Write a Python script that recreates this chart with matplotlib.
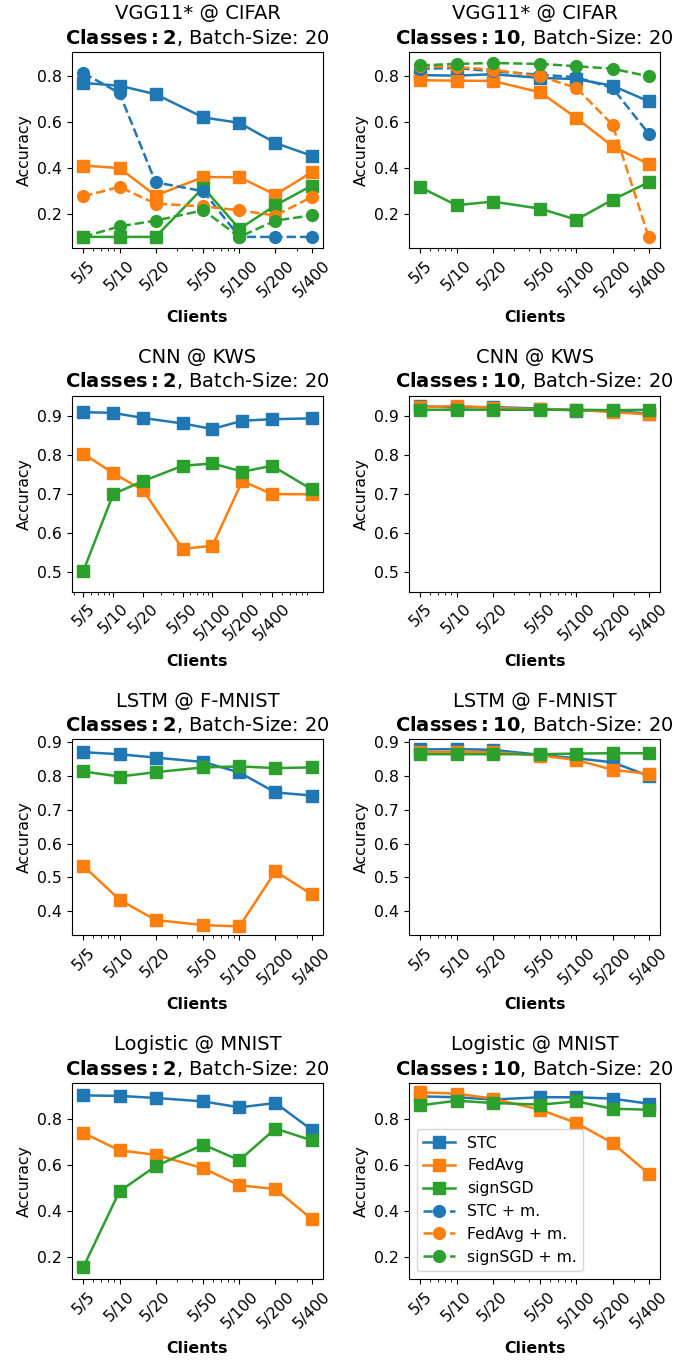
import numpy as np
from matplotlib import pyplot as plt
from matplotlib.ticker import NullFormatter

clients = [5, 10, 20, 50, 100, 200, 400]
clients_kws2 = [5, 10, 20, 50, 100, 200, 400, 1000]
client_labels = ["5/5", "5/10", "5/20", "5/50", "5/100", "5/200", "5/400"]

# VGG11* @ CIFAR
vgg2_stc = [0.771, 0.759, 0.722, 0.621, 0.597, 0.509, 0.454]
vgg2_fedavg = [0.411, 0.400, 0.280, 0.361, 0.360, 0.284, 0.382]
vgg2_signsgd = [0.100, 0.100, 0.100, 0.315, 0.135, 0.238, 0.323]
vgg2_stc_m = [0.814, 0.727, 0.338, 0.299, 0.100, 0.100, 0.100]
vgg2_fedavg_m = [0.277, 0.318, 0.245, 0.233, 0.216, 0.193, 0.274]
vgg2_signsgd_m = [0.100, 0.146, 0.171, 0.216, 0.100, 0.171, 0.194]

vgg10_stc = [0.805, 0.803, 0.809, 0.793, 0.788, 0.759, 0.691]
vgg10_fedavg = [0.783, 0.781, 0.780, 0.730, 0.618, 0.495, 0.418]
vgg10_signsgd = [0.316, 0.238, 0.254, 0.223, 0.175, 0.262, 0.338]
vgg10_stc_m = [0.833, 0.836, 0.822, 0.807, 0.796, 0.749, 0.550]
vgg10_fedavg_m = [0.844, 0.840, 0.829, 0.800, 0.749, 0.589, 0.100]
vgg10_signsgd_m = [0.848, 0.854, 0.858, 0.854, 0.844, 0.833, 0.800]

# CNN @ KWS
kws2_stc = [0.909, 0.907, 0.894, 0.880, 0.866, 0.887, 0.891, 0.893]
kws2_fedavg = [0.803, 0.753, 0.710, 0.560, 0.568, 0.733, 0.700, 0.699]
kws2_signsgd = [0.504, 0.700, 0.733, 0.772, 0.778, 0.757, 0.772, 0.712]

kws10_stc = [0.924, 0.921, 0.922, 0.918, 0.913, 0.912, 0.905]
kws10_fedavg = [0.921, 0.925, 0.920, 0.916, 0.915, 0.909, 0.903]
kws10_signsgd = [0.915, 0.915, 0.915, 0.915, 0.915, 0.914, 0.915]

# LSTM @ F-MNIST
fmnist2_stc = [0.870, 0.864, 0.854, 0.841, 0.810, 0.751, 0.742]
fmnist2_fedavg = [0.534, 0.434, 0.374, 0.359, 0.355, 0.518, 0.450]
fmnist2_signsgd = [0.813, 0.798, 0.811, 0.825, 0.828, 0.823, 0.825]

fmnist10_stc = [0.878, 0.879, 0.877, 0.862, 0.852, 0.840, 0.800]
fmnist10_fedavg = [0.870, 0.871, 0.870, 0.860, 0.847, 0.818, 0.806]
fmnist10_signsgd = [0.864, 0.864, 0.864, 0.864, 0.866, 0.867, 0.867]

# Logistic @ MNIST
mnist2_stc = [0.901, 0.899, 0.890, 0.875, 0.849, 0.868, 0.752]
mnist2_fedavg = [0.738, 0.662, 0.643, 0.584, 0.510, 0.494, 0.364]
mnist2_signsgd = [0.155, 0.484, 0.593, 0.687, 0.619, 0.757, 0.706]

mnist10_stc = [0.897, 0.893, 0.883, 0.893, 0.893, 0.887, 0.865]
mnist10_fedavg = [0.914, 0.909, 0.887, 0.839, 0.781, 0.694, 0.561]
mnist10_signsgd = [0.858, 0.878, 0.868, 0.861, 0.875, 0.843, 0.839]

row_titles = ["VGG11* @ CIFAR", "CNN @ KWS", "LSTM @ F-MNIST", "Logistic @ MNIST"]
row_ylims = [(0.052, 0.906), (0.451, 0.951), (0.329, 0.908), (0.103, 0.955)]
class_counts = [2, 10]

FS = 11.3
colors = ["C0", "C1", "C2"]
names = ["STC", "FedAvg", "signSGD"]


def draw(ax, x, plain, momentum=None):
    for vals, c, n in zip(plain, colors, names):
        ax.plot(x, vals, "-s", color=c, lw=1.8, ms=8.5, label=n)
    for i, c in enumerate(colors):
        if momentum is not None:
            ax.plot(x, momentum[i], "--o", color=c, lw=1.8, ms=8.5, label=names[i] + " + m.")
        else:
            # empty entry so the legend still lists the momentum runs
            ax.plot([], [], "--o", color=c, lw=1.8, ms=8.5, label=names[i] + " + m.")


fig, axes = plt.subplots(4, 2, figsize=(6.89, 13.61), dpi=100)
fig.subplots_adjust(left=0.1045, right=0.958, top=0.9618, bottom=0.0603,
                    wspace=0.343, hspace=0.754)

draw(axes[0, 0], clients, [vgg2_stc, vgg2_fedavg, vgg2_signsgd],
     [vgg2_stc_m, vgg2_fedavg_m, vgg2_signsgd_m])
draw(axes[0, 1], clients, [vgg10_stc, vgg10_fedavg, vgg10_signsgd],
     [vgg10_stc_m, vgg10_fedavg_m, vgg10_signsgd_m])
draw(axes[1, 0], clients_kws2, [kws2_stc, kws2_fedavg, kws2_signsgd])
draw(axes[1, 1], clients, [kws10_stc, kws10_fedavg, kws10_signsgd])
draw(axes[2, 0], clients, [fmnist2_stc, fmnist2_fedavg, fmnist2_signsgd])
draw(axes[2, 1], clients, [fmnist10_stc, fmnist10_fedavg, fmnist10_signsgd])
draw(axes[3, 0], clients, [mnist2_stc, mnist2_fedavg, mnist2_signsgd])
draw(axes[3, 1], clients, [mnist10_stc, mnist10_fedavg, mnist10_signsgd])

for r in range(4):
    for c in range(2):
        ax = axes[r, c]
        ax.set_xscale("log")
        ax.set_xticks(clients)
        ax.set_xticklabels(client_labels, rotation=45, fontsize=FS)
        ax.xaxis.set_minor_formatter(NullFormatter())
        ax.set_ylim(*row_ylims[r])
        ax.tick_params(axis="y", labelsize=FS)
        ax.set_xlabel("Clients", fontsize=FS, fontweight="bold", labelpad=7)
        ax.set_ylabel("Accuracy", fontsize=FS)
        ax.set_title(row_titles[r] + "\n" + r"$\bf{Classes: %d}$, Batch-Size: 20" % class_counts[c],
                     fontsize=14)

axes[3, 1].legend(loc="lower left", fontsize=FS)

plt.savefig("out.png", dpi=100)
